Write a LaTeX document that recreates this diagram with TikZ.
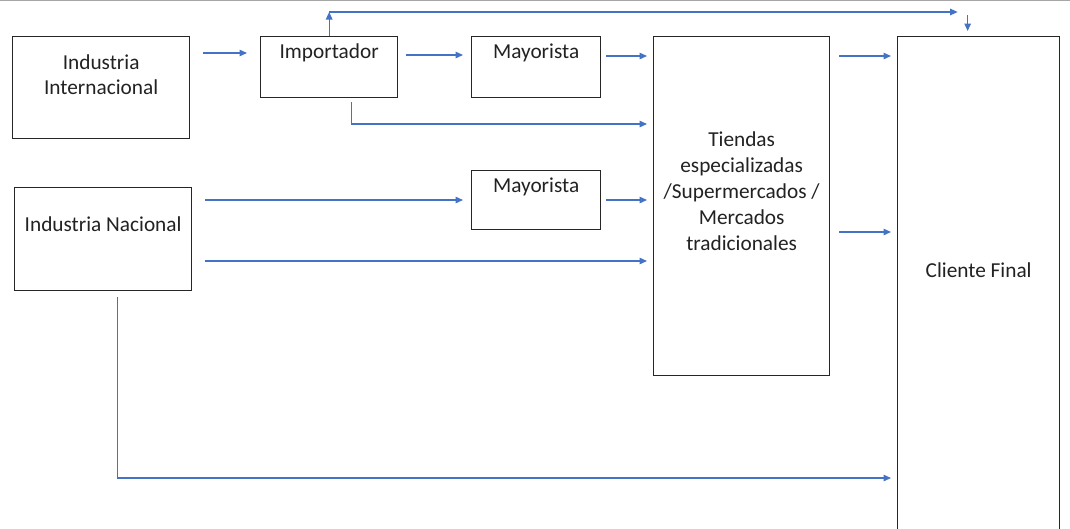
\documentclass[tikz,border=0pt]{standalone}
\usepackage{fontspec}
\setmainfont{Carlito}
\usetikzlibrary{arrows.meta,calc}
\definecolor{flowc}{HTML}{4472C4}
\definecolor{txtc}{HTML}{222222}
\begin{document}
\begin{tikzpicture}[x=1pt,y=-1pt,
  box/.style={draw=black!85, line width=1.3pt, anchor=north west, inner sep=0pt},
  txt/.style={text=txtc, font=\fontsize{21.3pt}{25.5pt}\selectfont, align=center, inner sep=0pt},
  flow/.style={draw=flowc, line width=1.3pt, -{Triangle[length=7.5pt,width=6.5pt]}}]
\useasboundingbox (0,0) rectangle (1070,528);
\clip (0,0) rectangle (1070,528);
\fill[white] (0,0) rectangle (1070,528);
\draw[gray!70, line width=1.5pt] (0,0.5) -- (1070,0.5);
% boxes
\node[box, minimum width=177pt, minimum height=102pt] (intl) at (12,36) {};
\node[box, minimum width=137pt, minimum height=61pt] (imp) at (260,36) {};
\node[box, minimum width=129pt, minimum height=61pt] (may1) at (471,36) {};
\node[box, minimum width=176pt, minimum height=339pt] (tie) at (653,36) {};
\node[box, minimum width=162pt, minimum height=500pt] (cli) at (897,36) {};
\node[box, minimum width=177pt, minimum height=103pt] (nac) at (14,187) {};
\node[box, minimum width=129pt, minimum height=59pt] (may2) at (471,170) {};
% texts
\node[txt] (intlt) at ($(intl.north)+(0,38.5)$) {Industria\\Internacional};
\node[txt] (impt) at ($(imp.north)+(0,17)$) {Importador};
\node[txt] (may1t) at ($(may1.north)+(0,17)$) {Mayorista};
\node[txt, font=\fontsize{21.3pt}{26pt}\selectfont] (tiet) at ($(tie.north)+(0,155)$) {Tiendas\\especializadas\\/Supermercados /\\Mercados\\tradicionales};
\node[txt] (clit) at ($(cli.north)+(0,234)$) {Cliente Final};
\node[txt] (nact) at ($(nac.north)+(0,37)$) {Industria Nacional};
\node[txt] (may2t) at ($(may2.north)+(0,17)$) {Mayorista};
% connectors
\draw[flow, shorten <=13pt, shorten >=13pt] ([yshift=-17pt]intl.north east) -- ([yshift=-17pt]imp.north west);
\draw[flow, shorten <=8pt, shorten >=8pt] ([yshift=-19pt]imp.north east) -- ([yshift=-19pt]may1.north west);
\draw[flow, shorten <=5pt, shorten >=6pt] ([yshift=-20pt]may1.north east) -- ([yshift=-20pt]tie.north west);
\draw[flow, shorten <=9pt, shorten >=6pt] ([yshift=-20pt]tie.north east) -- ([yshift=-20pt]cli.north west);
\draw[flow, shorten <=4pt, shorten >=6pt] ([xshift=22.5pt]imp.south) |- ([yshift=-88pt]tie.north west);
\draw[flow] (imp.north) -- ++(0,-24) coordinate (tp);
\draw[flow] (tp) -- ([xshift=-21pt]cli.north |- tp);
\draw[flow] ([xshift=-11pt,yshift=21pt]cli.north) -- ([xshift=-11pt,yshift=5pt]cli.north);
\draw[flow, shorten <=13pt, shorten >=8pt] ([yshift=-13pt]nac.north east) -- ([yshift=-30pt]may2.north west);
\draw[flow, shorten <=5pt, shorten >=6pt] ([yshift=-30pt]may2.north east) -- ([yshift=-164pt]tie.north west);
\draw[flow, shorten <=13pt, shorten >=6pt] ([yshift=-74pt]nac.north east) -- ([yshift=-225pt]tie.north west);
\draw[flow, shorten <=9pt, shorten >=6pt] ([yshift=-196pt]tie.north east) -- ([yshift=-196pt]cli.north west);
\draw[flow, shorten <=6pt, shorten >=6pt] ([xshift=14.5pt]nac.south) |- ([yshift=-442pt]cli.north west);
\end{tikzpicture}
\end{document}
